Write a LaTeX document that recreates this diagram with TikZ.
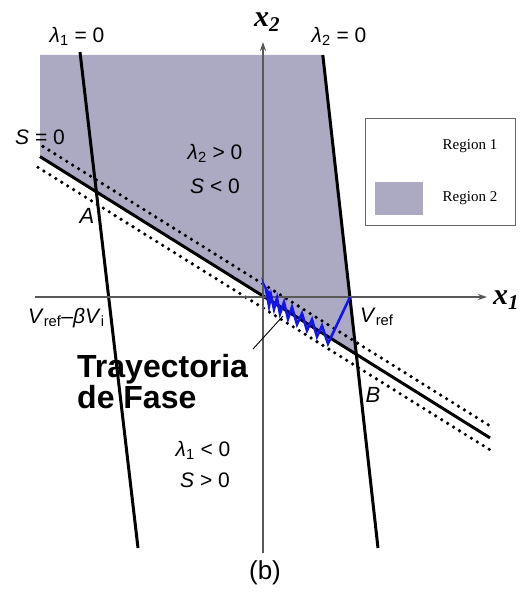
\documentclass[tikz,border=0pt]{standalone}
\usepackage{fontspec}
\setmainfont{Liberation Sans}
\newfontfamily\seriffam{Liberation Serif}
\usetikzlibrary{arrows.meta}
\definecolor{regiontwo}{RGB}{172,170,194}
\definecolor{trajblue}{RGB}{20,20,240}
\begin{document}
\begin{tikzpicture}[x=1pt,y=-1pt,
  bline/.style={line width=3pt, black},
  dotline/.style={line width=3.6pt, dash pattern=on 0pt off 7pt, line cap=round, black},
  axisline/.style={line width=1.5pt, draw=black!65, -{Stealth[length=9pt,width=6pt]}},
  lbl/.style={font=\fontsize{21}{23}\selectfont, inner sep=0pt},
  biglbl/.style={font=\fontsize{32}{34}\selectfont\bfseries, inner sep=0pt, anchor=base west},
  leg/.style={font=\seriffam\fontsize{15}{17}\selectfont, inner sep=0pt}]
\useasboundingbox (0,0) rectangle (522,594);
% key points
\coordinate (L1t) at (80,52);
\coordinate (L1b) at (138,548);
\coordinate (L2t) at (322.8,55);
\coordinate (L2b) at (378,548);
\coordinate (Sl) at (40,156.6);
\coordinate (Sr) at (490,437.9);
\coordinate (Bx) at (356.3,354.3);
\coordinate (Ul) at (43,146.5);
\coordinate (Ur) at (490,425.9);
\coordinate (Dl) at (38,167.4);
\coordinate (Dr) at (492,451.1);
\coordinate (TL) at (40,55);
% shaded region 2
\fill[regiontwo] (TL) -- (L2t) -- (Bx) -- (Sl) -- cycle;
% sliding surface and boundary layer
\draw[dotline] (Ul) -- (Ur);
\draw[dotline] (Dl) -- (Dr);
\draw[bline] (Sl) -- (Sr);
% lambda lines
\draw[bline] (L1t) -- (L1b);
\draw[bline] (L2t) -- (L2b);
% axes
\coordinate (X1s) at (35,297);
\coordinate (X1e) at (487,297);
\coordinate (X2s) at (263,553);
\coordinate (X2e) at (263,42);
\draw[axisline] (X1s) -- (X1e);
\draw[axisline] (X2s) -- (X2e);
% phase trajectory
\draw[trajblue, line width=2.6pt, line join=miter]
  (350,297) -- (328,343.6) -- (322,325.8) -- (317,336.7) -- (312,319.6)
  -- (307,330.5) -- (302,313.4) -- (297,324.3) -- (292,307.2) -- (288,318.8)
  -- (284,302.3) -- (280,313.8) -- (277,298) -- (274,309.1) -- (271,295.2)
  -- (269,306) -- (267,294.7) -- (270,302) -- (266,289) -- (272,300) -- (268,291);
% labels
\node[lbl] (l1) at (77,36) {\textit{λ}\textsubscript{1} = 0};
\node[lbl] (l2) at (339,36) {\textit{λ}\textsubscript{2} = 0};
\node[lbl] (s0) at (40,137) {\textit{S} = 0};
\node[lbl] (l2p) at (215,153) {\textit{λ}\textsubscript{2} > 0};
\node[lbl] (sn) at (215,186) {\textit{S} < 0};
\node[lbl] (l1n) at (203,450) {\textit{λ}\textsubscript{1} < 0};
\node[lbl] (sp) at (205,480) {\textit{S} > 0};
\node[lbl, font=\fontsize{22}{24}\selectfont\itshape] (A) at (87,216) {A};
\node[lbl, font=\fontsize{22}{24}\selectfont\itshape] (B) at (373,395) {B};
\node[lbl, anchor=base west] (vl) at (28,323) {\textit{V}\textsubscript{ref}–\textit{βV}\textsubscript{i}};
\node[lbl, anchor=base west] (vr) at (360,322) {\textit{V}\textsubscript{ref}};
\node[inner sep=0pt, font=\seriffam\fontsize{30}{32}\selectfont\bfseries\itshape] (x2) at (267,22) {x\textsubscript{2}};
\node[inner sep=0pt, font=\seriffam\fontsize{30}{32}\selectfont\bfseries\itshape] (x1) at (506,300) {x\textsubscript{1}};
\node[biglbl] (tr) at (77,377) {Trayectoria};
\node[biglbl] (df) at (77,408) {de Fase};
\coordinate (ps) at (253,349);
\coordinate (pe) at (283,316);
\draw[line width=0.9pt] (ps) -- (pe);
\node[lbl, font=\fontsize{26}{28}\selectfont] (b) at (265,573) {(b)};
% legend
\draw[line width=1pt, draw=black!60] (365,118) rectangle (515,225);
\fill[regiontwo] (375,182) rectangle (423,215);
\node[leg] (r1) at (470,146) {Region 1};
\node[leg] (r2) at (470,198) {Region 2};
\end{tikzpicture}
\end{document}
